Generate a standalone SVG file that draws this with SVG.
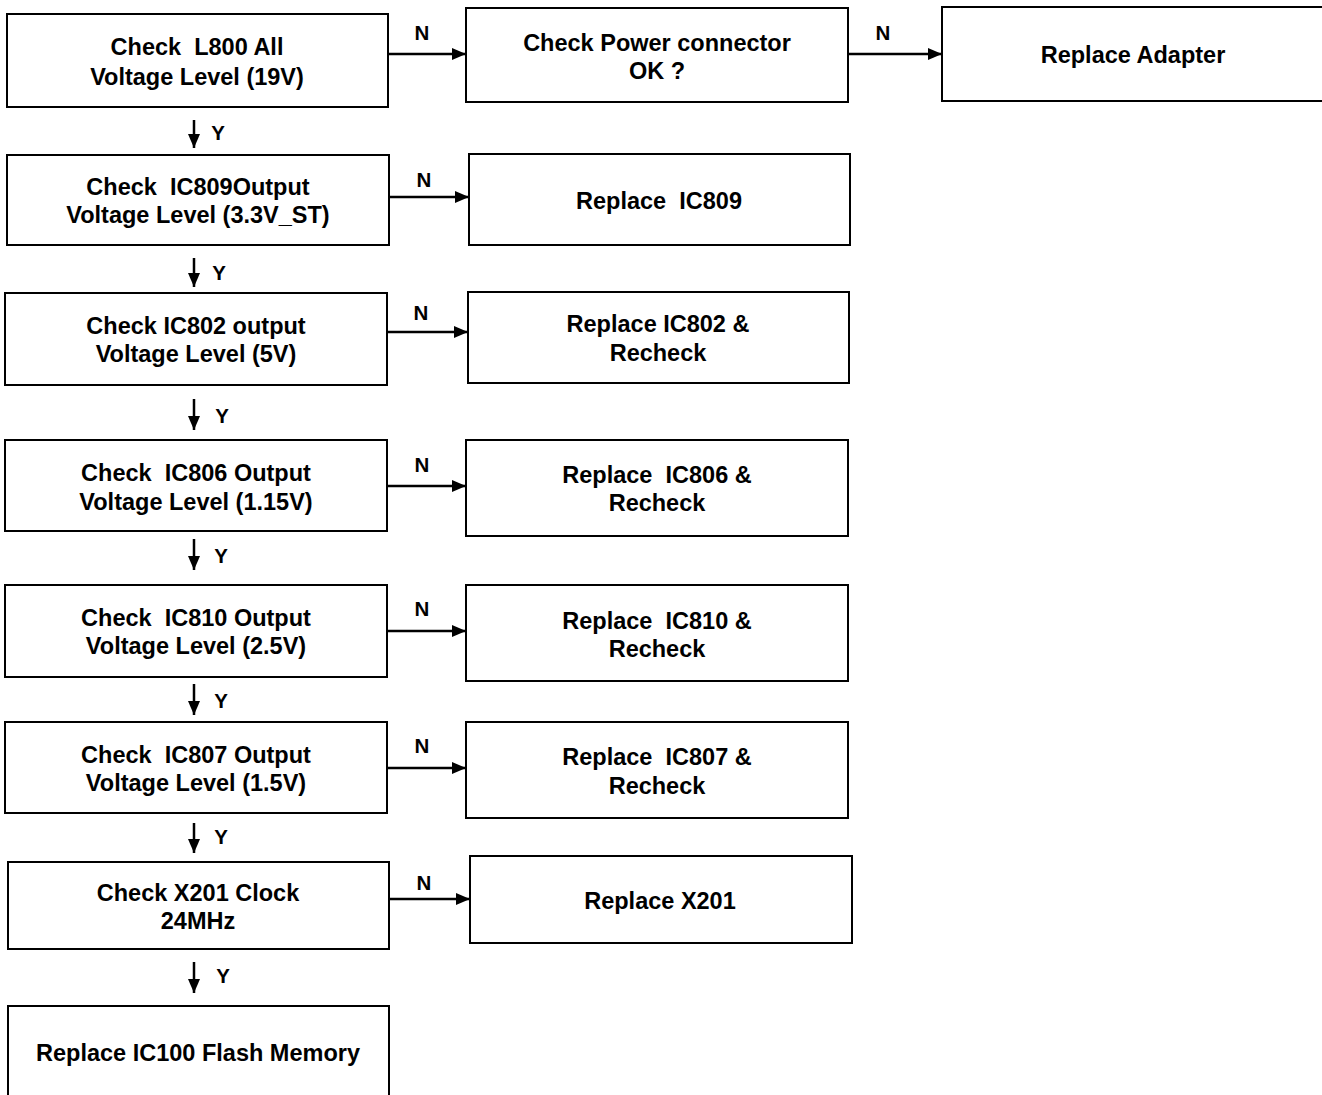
<svg xmlns="http://www.w3.org/2000/svg" width="1322" height="1095" viewBox="0 0 1322 1095">
<defs>
<marker id="ah" markerWidth="14" markerHeight="12" refX="14" refY="6" orient="auto" markerUnits="userSpaceOnUse">
<path d="M0,0 L14,6 L0,12 Z" fill="#000"/>
</marker>
<style>
rect{fill:#fff;stroke:#000;stroke-width:2}
text{font-family:"Liberation Sans",Arial,sans-serif;font-weight:bold;fill:#000;white-space:pre}
.t{font-size:23.5px;text-anchor:middle}
.l{font-size:20.5px;text-anchor:middle}
.c line{stroke:#000;stroke-width:2.5;marker-end:url(#ah)}
</style>
</defs>
<rect x="0" y="0" width="1322" height="1095" style="stroke:none"/>
<g id="n1"><rect x="7" y="14" width="381" height="93"/><text class="t" x="197" y="55" xml:space="preserve">Check  L800 All</text><text class="t" x="197" y="85">Voltage Level (19V)</text></g>
<g id="n2"><rect x="466" y="8" width="382" height="94"/><text class="t" x="657" y="51">Check Power connector</text><text class="t" x="657" y="79">OK ?</text></g>
<g id="n3"><rect x="942" y="7" width="400" height="94"/><text class="t" x="1133" y="63">Replace Adapter</text></g>
<g id="n4"><rect x="7" y="155" width="382" height="90"/><text class="t" x="198" y="195" xml:space="preserve">Check  IC809Output</text><text class="t" x="198" y="223">Voltage Level (3.3V_ST)</text></g>
<g id="n5"><rect x="469" y="154" width="381" height="91"/><text class="t" x="659" y="209" xml:space="preserve">Replace  IC809</text></g>
<g id="n6"><rect x="5" y="293" width="382" height="92"/><text class="t" x="196" y="334">Check IC802 output</text><text class="t" x="196" y="362">Voltage Level (5V)</text></g>
<g id="n7"><rect x="468" y="292" width="381" height="91"/><text class="t" x="658" y="332">Replace IC802 &amp;</text><text class="t" x="658" y="361">Recheck</text></g>
<g id="n8"><rect x="5" y="440" width="382" height="91"/><text class="t" x="196" y="481" xml:space="preserve">Check  IC806 Output</text><text class="t" x="196" y="510">Voltage Level (1.15V)</text></g>
<g id="n9"><rect x="466" y="440" width="382" height="96"/><text class="t" x="657" y="483" xml:space="preserve">Replace  IC806 &amp;</text><text class="t" x="657" y="511">Recheck</text></g>
<g id="n10"><rect x="5" y="585" width="382" height="92"/><text class="t" x="196" y="626" xml:space="preserve">Check  IC810 Output</text><text class="t" x="196" y="654">Voltage Level (2.5V)</text></g>
<g id="n11"><rect x="466" y="585" width="382" height="96"/><text class="t" x="657" y="629" xml:space="preserve">Replace  IC810 &amp;</text><text class="t" x="657" y="657">Recheck</text></g>
<g id="n12"><rect x="5" y="722" width="382" height="91"/><text class="t" x="196" y="763" xml:space="preserve">Check  IC807 Output</text><text class="t" x="196" y="791">Voltage Level (1.5V)</text></g>
<g id="n13"><rect x="466" y="722" width="382" height="96"/><text class="t" x="657" y="765" xml:space="preserve">Replace  IC807 &amp;</text><text class="t" x="657" y="794">Recheck</text></g>
<g id="n14"><rect x="8" y="862" width="381" height="87"/><text class="t" x="198" y="901">Check X201 Clock</text><text class="t" x="198" y="929">24MHz</text></g>
<g id="n15"><rect x="470" y="856" width="382" height="87"/><text class="t" x="660" y="909">Replace X201</text></g>
<g id="n16"><rect x="8" y="1006" width="381" height="110"/><text class="t" x="198" y="1061">Replace IC100 Flash Memory</text></g>
<g id="connectors" class="c">
<line x1="388" y1="54" x2="466" y2="54"/>
<line x1="848" y1="54" x2="942" y2="54"/>
<line x1="389" y1="197" x2="469" y2="197"/>
<line x1="387" y1="332" x2="468" y2="332"/>
<line x1="387" y1="486" x2="466" y2="486"/>
<line x1="387" y1="631" x2="466" y2="631"/>
<line x1="387" y1="768" x2="466" y2="768"/>
<line x1="389" y1="899" x2="470" y2="899"/>
<line x1="194" y1="120" x2="194" y2="148"/>
<line x1="194" y1="258" x2="194" y2="287"/>
<line x1="194" y1="399" x2="194" y2="430"/>
<line x1="194" y1="539" x2="194" y2="570"/>
<line x1="194" y1="684" x2="194" y2="715"/>
<line x1="194" y1="823" x2="194" y2="853"/>
<line x1="194" y1="962" x2="194" y2="993"/>
</g>
<g id="labels">
<text class="l" x="422" y="40">N</text>
<text class="l" x="883" y="40">N</text>
<text class="l" x="424" y="187">N</text>
<text class="l" x="421" y="320">N</text>
<text class="l" x="422" y="472">N</text>
<text class="l" x="422" y="616">N</text>
<text class="l" x="422" y="753">N</text>
<text class="l" x="424" y="890">N</text>
<text class="l" x="218" y="140">Y</text>
<text class="l" x="219" y="280">Y</text>
<text class="l" x="222" y="423">Y</text>
<text class="l" x="221" y="563">Y</text>
<text class="l" x="221" y="708">Y</text>
<text class="l" x="221" y="844">Y</text>
<text class="l" x="223" y="983">Y</text>
</g>
</svg>
